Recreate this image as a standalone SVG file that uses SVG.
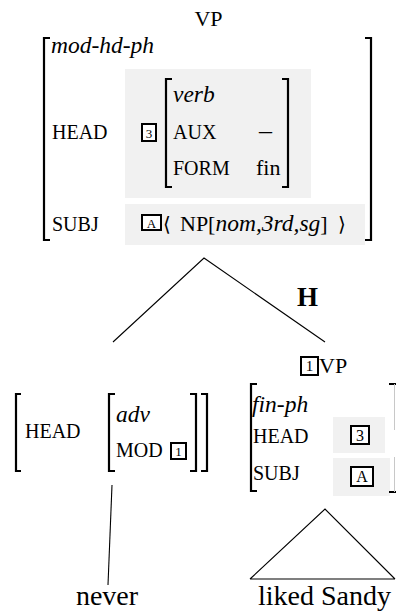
<svg xmlns="http://www.w3.org/2000/svg" width="396" height="611" viewBox="0 0 396 611" font-family="'Liberation Serif', 'Times New Roman', Times, serif">
<style>
text{font-family:'Liberation Serif','Times New Roman',Times,serif;fill:#000}
.rm{font-size:22px}
.it{font-size:23.5px;font-style:italic}
.sc{font-size:20px}
.big{font-size:28px}
.bf{font-size:27px;font-weight:bold}
.tg{font-size:13px;text-anchor:middle}
.ang{font-family:'DejaVu Serif','Liberation Serif',serif;font-size:20px}
.br{fill:none;stroke:#000;stroke-width:2.2}
.bx{fill:#fff;stroke:#000;stroke-width:2}
.sh{fill:#f1f1f1;stroke:none}
.ln{fill:none;stroke:#000;stroke-width:1.1}
</style>
<rect width="396" height="611" fill="#fff"/>
<g id="node-vp-top">
<text class="rm" x="208.5" y="26" text-anchor="middle">VP</text>
<rect class="sh" x="125" y="69" width="186" height="129"/>
<rect class="sh" x="125" y="204" width="240" height="41"/>
<path class="br" d="M50,38H44V240H50M365,38H371V240H365"/>
<text class="it" x="51" y="53">mod-hd-ph</text>
<text class="sc" x="52" y="139">HEAD</text>
<rect class="bx" x="142" y="124" width="14" height="17"/>
<text class="tg" x="149" y="137.5">3</text>
<path class="br" d="M172,79H166V187H172M282,79H288V187H282"/>
<text class="it" x="173" y="102">verb</text>
<text class="sc" x="173" y="139">AUX</text>
<text class="rm" x="265.5" y="139" text-anchor="middle" style="font-size:26px">–</text>
<text class="sc" x="173" y="175">FORM</text>
<text class="rm" x="256" y="175">fin</text>
<text class="sc" x="52" y="231">SUBJ</text>
<rect class="bx" x="142" y="215" width="19" height="15"/>
<text class="tg" x="151.5" y="227.5">A</text>
<text class="ang" x="163" y="231">⟨</text>
<text class="rm" x="180" y="231">NP[<tspan class="it">nom,3rd,sg</tspan>]</text>
<text class="ang" x="338" y="231">⟩</text>
</g>
<g id="connectors">
<path class="ln" d="M113,342L204,258L325,342"/>
<text class="bf" x="297" y="306">H</text>
<path class="ln" d="M112,485L108,585"/>
<path class="ln" d="M250,579L325,509L395,579M250,579H395"/>
</g>
<g id="node-adv">
<path class="br" d="M21,394H16V471H21"/>
<text class="sc" x="25" y="438">HEAD</text>
<path class="br" d="M115,394H109V471H115"/>
<text class="it" x="116" y="422">adv</text>
<text class="sc" x="116" y="457">MOD</text>
<rect class="bx" x="171" y="443" width="15" height="16"/>
<text class="tg" x="178.5" y="456">1</text>
<path class="br" d="M190,394H196V471H190M201,394H207V471H201"/>
</g>
<g id="node-vp-head">
<rect class="bx" x="301" y="357" width="17" height="18"/>
<text class="tg" x="309.5" y="371" style="font-size:15px">1</text>
<text class="rm" x="319" y="373">VP</text>
<rect class="sh" x="333" y="417" width="52" height="36"/>
<rect class="sh" x="333" y="458" width="57" height="38"/>
<path class="br" d="M257,384H251V491H257"/>
<text class="it" x="252" y="412">fin-ph</text>
<text class="sc" x="253" y="443">HEAD</text>
<rect class="bx" x="351" y="426" width="18" height="18"/>
<text class="tg" x="360" y="440.5" style="font-size:16px">3</text>
<text class="sc" x="253" y="480">SUBJ</text>
<rect class="bx" x="351" y="467" width="22" height="19"/>
<text class="tg" x="362" y="482" style="font-size:16px">A</text>
<path class="br" d="M389,384H396M389,492H396"/>
<path d="M394.5,384V430M394.5,457V492" stroke="#c8c8c8" stroke-width="1" fill="none"/>
</g>
<g id="leaf-never">
<text class="big" x="107" y="605" text-anchor="middle">never</text>
</g>
<g id="leaf-liked">
<text class="big" x="324.5" y="605" text-anchor="middle">liked Sandy</text>
</g>
</svg>
